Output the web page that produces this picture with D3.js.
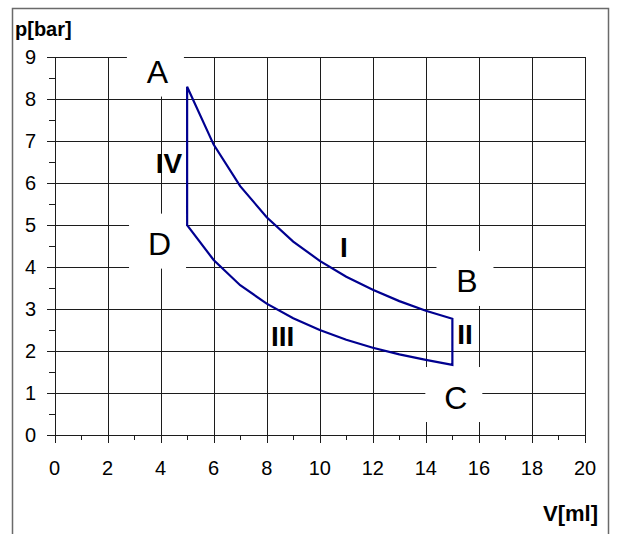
<!DOCTYPE html>
<html>
<head>
<meta charset="utf-8">
<script src="https://cdn.jsdelivr.net/npm/d3@7"></script>
<style>
  html, body { margin: 0; padding: 0; background: #fff; }
  svg { display: block; }
  text { font-family: "Liberation Sans", Arial, sans-serif; }
</style>
</head>
<body>
<svg id="chart" width="617" height="534"></svg>
<script>
// ---- data ----
const volume = [5, 6, 7, 8, 9, 10, 11, 12, 13, 14, 15];              // V [ml]
const pCurveI = [8.3, 6.92, 5.93, 5.19, 4.61, 4.15, 3.77, 3.46, 3.19, 2.96, 2.77];   // A -> B
const pCurveIII = [5.0, 4.17, 3.57, 3.13, 2.78, 2.5, 2.27, 2.08, 1.92, 1.79, 1.67]; // D -> C
const xTicks = [0, 2, 4, 6, 8, 10, 12, 14, 16, 18, 20];
const yTicks = [0, 1, 2, 3, 4, 5, 6, 7, 8, 9];
const xMinor = [1, 3, 5, 7, 9, 11, 13, 15, 17, 19];
const yMinor = [0.5, 1.5, 2.5, 3.5, 4.5, 5.5, 6.5, 7.5, 8.5];
const pointNames = ["A", "B", "C", "D"];
const pointLabelV = [3.88, 15.55, 15.13, 3.96];
const pointLabelP = [8.66, 3.67, 0.905, 4.56];
const stageNames = ["I", "II", "III", "IV"];
const stageLabelV = [10.91, 15.48, 8.6, 4.32];
const stageLabelP = [4.48, 2.41, 2.35, 6.48];

// ---- layout ----
const svg = d3.select("#chart");
const x = d3.scaleLinear().domain([0, 20]).range([54.5, 585]);
const y = d3.scaleLinear().domain([0, 9]).range([435, 57.3]);
const snap = v => Math.round(v) + 0.5;

// frame
svg.append("rect").attr("x", 12.5).attr("y", 8.5).attr("width", 596).attr("height", 540)
  .attr("fill", "none").attr("stroke", "#6a6a6a").attr("stroke-width", 1.5);

const grid = svg.append("g").attr("stroke", "#1c1c1c").attr("stroke-width", 1).attr("shape-rendering", "crispEdges");
// horizontal gridlines (extending left as major ticks)
grid.selectAll("line.h").data(yTicks).join("line")
  .attr("x1", 47).attr("x2", snap(x(20)))
  .attr("y1", d => snap(y(d))).attr("y2", d => snap(y(d)));
// vertical gridlines (extending down as major ticks)
grid.selectAll("line.v").data(xTicks).join("line")
  .attr("x1", d => snap(x(d))).attr("x2", d => snap(x(d)))
  .attr("y1", snap(y(9))).attr("y2", 443);
// minor ticks
grid.selectAll("line.mx").data(xMinor).join("line")
  .attr("x1", d => snap(x(d))).attr("x2", d => snap(x(d)))
  .attr("y1", snap(y(0))).attr("y2", 440);
grid.selectAll("line.my").data(yMinor).join("line")
  .attr("x1", 49).attr("x2", snap(x(0)))
  .attr("y1", d => snap(y(d))).attr("y2", d => snap(y(d)));

// tick labels
svg.append("g").selectAll("text").data(xTicks).join("text")
  .attr("x", d => x(d)).attr("y", 475).attr("text-anchor", "middle")
  .attr("font-size", 20).attr("fill", "#000").text(d => d);
svg.append("g").selectAll("text").data(yTicks).join("text")
  .attr("x", 36).attr("y", d => y(d) + 7).attr("text-anchor", "end")
  .attr("font-size", 20).attr("fill", "#000").text(d => d);

// axis titles
svg.append("text").attr("x", 15).attr("y", 36).attr("font-size", 20).attr("font-weight", "bold").text("p[bar]");
svg.append("text").attr("x", 598).attr("y", 521).attr("text-anchor", "end").attr("font-size", 22).attr("font-weight", "bold").text("V[ml]");

// cycle path: A -> (I) -> B -> (II) -> C -> (III) -> D -> (IV) -> A
const cycle = volume.map((v, i) => [v, pCurveI[i]])
  .concat(volume.map((v, i) => [v, pCurveIII[i]]).reverse());
const line = d3.line().x(d => x(d[0])).y(d => y(d[1])).curve(d3.curveLinearClosed);
svg.append("path").attr("d", line(cycle))
  .attr("fill", "none").attr("stroke", "#000090").attr("stroke-width", 2.2).attr("stroke-linejoin", "miter");

// point labels with white boxes
const pl = svg.append("g").selectAll("g").data(pointNames).join("g");
pl.append("rect")
  .attr("x", (d, i) => x(pointLabelV[i]) - 30.5).attr("y", (d, i) => y(pointLabelP[i]) - 30)
  .attr("width", 57).attr("height", 55).attr("fill", "#fff");
pl.append("text")
  .attr("x", (d, i) => x(pointLabelV[i])).attr("y", (d, i) => y(pointLabelP[i]) + 11.5)
  .attr("text-anchor", "middle").attr("font-size", 32).attr("fill", "#000").text(d => d);

// stage labels
svg.append("g").selectAll("text").data(stageNames).join("text")
  .attr("x", (d, i) => x(stageLabelV[i])).attr("y", (d, i) => y(stageLabelP[i]) + 10)
  .attr("text-anchor", "middle").attr("font-size", 28).attr("font-weight", "bold")
  .attr("fill", "#000").text(d => d);
</script>
</body>
</html>
